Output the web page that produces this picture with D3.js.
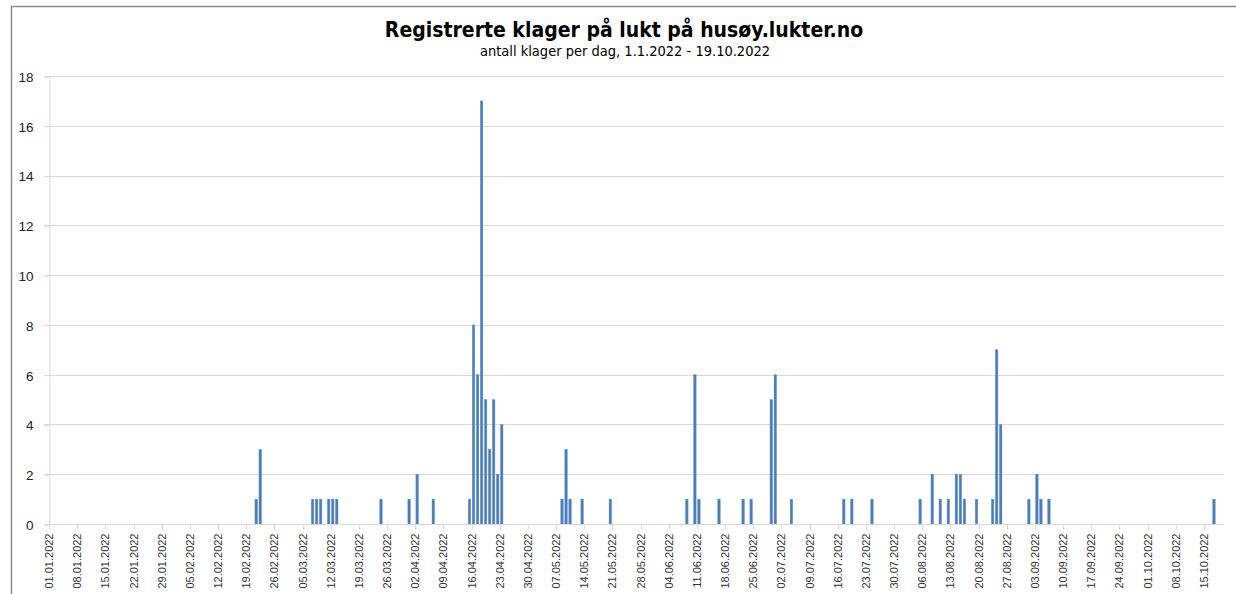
<!DOCTYPE html>
<html>
<head>
<meta charset="utf-8">
<script src="https://cdn.jsdelivr.net/npm/d3@7"></script>
<style>
  html, body { margin: 0; padding: 0; background: #fff; }
  svg { display: block; }
  .title { font-family: "DejaVu Sans Condensed", "DejaVu Sans", sans-serif; font-weight: bold; font-size: 21px; fill: #000; }
  .subtitle { font-family: "DejaVu Sans Condensed", "DejaVu Sans", sans-serif; font-size: 14.5px; fill: #000; }
  .yaxis text { font-family: "Liberation Sans", Arial, sans-serif; font-size: 13.5px; fill: #222; }
  .xaxis text { font-family: "Liberation Sans", Arial, sans-serif; font-size: 11px; fill: #333; }
  .grid line { stroke: #d9d9d9; stroke-width: 1; }
</style>
</head>
<body>
<svg id="chart" width="1236" height="594"></svg>
<script>
// days with registered complaints (dd.mm.2022) and the count for each
const complaintDates = [
  "21.02", "22.02", "07.03", "08.03", "09.03", "11.03", "12.03", "13.03", "24.03", "31.03",
  "02.04", "06.04", "15.04", "16.04", "17.04", "18.04", "19.04", "20.04", "21.04", "22.04",
  "23.04", "08.05", "09.05", "10.05", "13.05", "20.05", "08.06", "10.06", "11.06", "16.06",
  "22.06", "24.06", "29.06", "30.06", "04.07", "17.07", "19.07", "24.07", "05.08", "08.08",
  "10.08", "12.08", "14.08", "15.08", "16.08", "19.08", "23.08", "24.08", "25.08", "01.09",
  "03.09", "04.09", "06.09", "17.10"
];
const complaintCounts = [
  1, 3, 1, 1, 1, 1, 1, 1, 1, 1,
  2, 1, 1, 8, 6, 17, 5, 3, 5, 2,
  4, 1, 3, 1, 1, 1, 1, 6, 1, 1,
  1, 1, 5, 6, 1, 1, 1, 1, 1, 2,
  1, 1, 2, 2, 1, 1, 1, 7, 4, 1,
  2, 1, 1, 1
];
const yTicks = [0, 2, 4, 6, 8, 10, 12, 14, 16, 18];
const startDate = "01.01.2022", endDate = "19.10.2022";

const parse = d3.timeParse("%d.%m.%Y"),
      fmt = d3.timeFormat("%d.%m.%Y");

// one entry per day of the period, zero when nothing was registered
const counts = new Map(complaintDates.map((d, i) => [d + ".2022", complaintCounts[i]]));
const days = d3.timeDay.range(parse(startDate), d3.timeDay.offset(parse(endDate), 1))
    .map(d => ({ key: fmt(d), value: counts.get(fmt(d)) || 0 }));

const svg = d3.select("#chart");
const margin = { top: 76, right: 12, bottom: 70, left: 49 };
const width = 1236, height = 594;

// frame around the chart area
svg.append("path")
    .attr("d", `M11.5,${height} L11.5,6.5 L${width},6.5`)
    .attr("fill", "none")
    .attr("stroke", "#8c8c8c")
    .attr("stroke-width", 1.5);

svg.append("text")
    .classed("title", true)
    .attr("x", 624)
    .attr("y", 37)
    .attr("text-anchor", "middle")
    .text("Registrerte klager på lukt på husøy.lukter.no");

svg.append("text")
    .classed("subtitle", true)
    .attr("x", 625)
    .attr("y", 56)
    .attr("text-anchor", "middle")
    .text("antall klager per dag, 1.1.2022 - 19.10.2022");

const x = d3.scaleBand()
    .domain(days.map(d => d.key))
    .range([margin.left, width - margin.right]);

const y = d3.scaleLinear()
    .domain([0, 18])
    .range([height - margin.bottom, margin.top]);

// horizontal gridlines
svg.append("g")
    .classed("grid", true)
    .selectAll("line")
    .data(yTicks.slice(1))
    .enter()
    .append("line")
    .attr("x1", margin.left - 5)
    .attr("x2", width - margin.right)
    .attr("y1", d => Math.round(y(d)) + 0.5)
    .attr("y2", d => Math.round(y(d)) + 0.5);

// y-axis
const yAxis = svg.append("g")
    .classed("yaxis", true)
    .attr("transform", `translate(${margin.left + 0.5}, 0.5)`)
    .call(d3.axisLeft(y).tickValues(yTicks).tickSize(5).tickPadding(11));
yAxis.select(".domain").attr("stroke", "#d9d9d9");
yAxis.selectAll(".tick line").attr("stroke", "#d9d9d9");
yAxis.selectAll(".tick text").attr("dy", "0.36em");

// bars
svg.append("g")
    .selectAll("rect")
    .data(days.filter(d => d.value > 0))
    .enter()
    .append("rect")
    .attr("x", d => x(d.key) + x.bandwidth() / 2 - 1.3)
    .attr("width", 2.6)
    .attr("y", d => y(d.value))
    .attr("height", d => y(0) - y(d.value))
    .attr("fill", "#4a7ebb")
    .attr("stroke", "#6f97cf")
    .attr("stroke-width", 0.4);

// x-axis with a label every 7th day, at the left edge of the day
const xTickKeys = days.filter((d, i) => i % 7 === 0).map(d => d.key);
const xAxis = svg.append("g")
    .classed("xaxis", true)
    .attr("transform", `translate(0, ${Math.round(y(0)) + 0.5})`);

xAxis.append("line")
    .attr("x1", margin.left - 5)
    .attr("x2", width - margin.right)
    .attr("stroke", "#d9d9d9");

const xt = xAxis.selectAll("g.tick")
    .data(xTickKeys)
    .enter()
    .append("g")
    .classed("tick", true)
    .attr("transform", d => `translate(${Math.round(x(d)) + 0.5}, 0)`);

xt.append("line")
    .attr("y2", 5)
    .attr("stroke", "#d9d9d9");

xt.append("text")
    .attr("transform", "rotate(-90)")
    .attr("x", -9)
    .attr("y", 0)
    .attr("dy", "0.35em")
    .attr("text-anchor", "end")
    .text(d => d);
</script>
</body>
</html>
